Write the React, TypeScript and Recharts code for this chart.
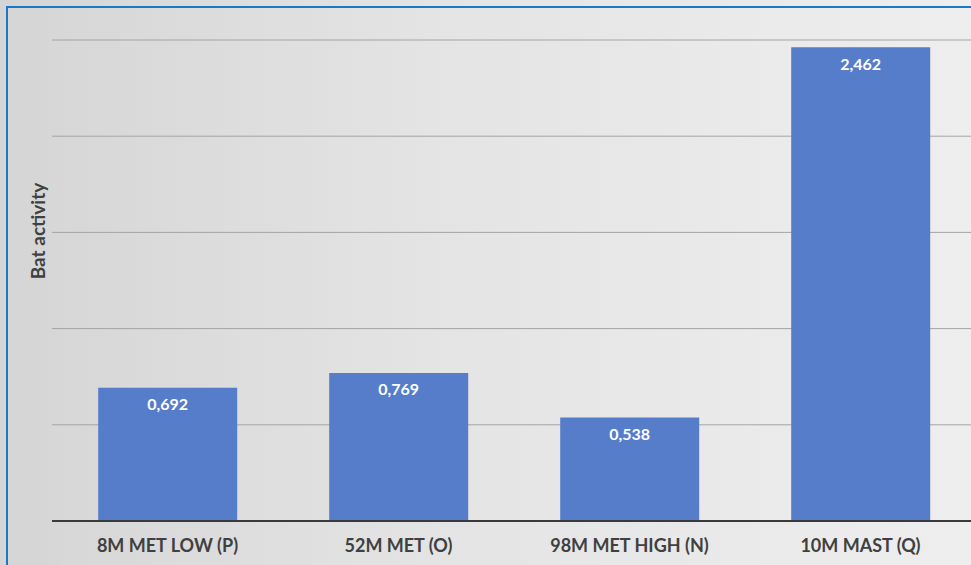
import React from "react";
import {
  BarChart,
  Bar,
  XAxis,
  YAxis,
  CartesianGrid,
  LabelList,
} from "recharts";

// Sites (category axis)
const sites: string[] = [
  "8M MET LOW (P)",
  "52M MET (O)",
  "98M MET HIGH (N)",
  "10M MAST (Q)",
];

// Bat activity per site
const activity: number[] = [0.692, 0.769, 0.538, 2.462];

// Value axis ticks (labels hidden in the original)
const yTicks: number[] = [0, 0.5, 1, 1.5, 2, 2.5];

const data = sites.map((site, i) => ({ site, activity: activity[i] }));

const FONT = "Lato, 'Open Sans', sans-serif";
const TEXT = "#404040";

// comma decimal separator, as in the original
const fmt = (v: any) => Number(v).toFixed(3).replace(".", ",");

const App: React.FC = () => {
  return (
    <div
      style={{
        position: "absolute",
        left: 0,
        top: 0,
        width: 971,
        height: 565,
        overflow: "hidden",
        background: "linear-gradient(90deg, #d5d5d5 0%, #e4e4e4 45%, #eeeeee 100%)",
        fontFamily: FONT,
      }}
    >
      {/* blue frame, top + left only (the screenshot is cropped) */}
      <div
        style={{
          position: "absolute",
          left: 6,
          top: 6,
          right: -10,
          bottom: -10,
          borderTop: "2px solid #1a78c8",
          borderLeft: "2px solid #1a78c8",
          pointerEvents: "none",
          zIndex: 2,
        }}
      />
      {/* y axis title */}
      <div
        style={{
          position: "absolute",
          left: 37,
          top: 231,
          transform: "translate(-50%, -50%) rotate(-90deg)",
          whiteSpace: "nowrap",
          color: TEXT,
          fontSize: 19,
          fontWeight: 700,
          lineHeight: 1,
          zIndex: 1,
        }}
      >
        Bat activity
      </div>
      <BarChart
        width={980}
        height={565}
        data={data}
        margin={{ top: 40, right: 4, left: 52, bottom: 0 }}
        barCategoryGap="20%"
      >
        <CartesianGrid
          horizontal={true}
          vertical={false}
          stroke="#a4a4a4"
          strokeWidth={1}
        />
        <YAxis
          width={0}
          domain={[0, 2.5]}
          ticks={yTicks}
          tick={() => <g />}
          axisLine={false}
          tickLine={false}
          allowDataOverflow
        />
        <XAxis
          dataKey="site"
          height={44}
          axisLine={{ stroke: "#3a3a3a", strokeWidth: 2 }}
          tickLine={false}
          tickMargin={12}
          interval={0}
          tick={{ fill: TEXT, fontSize: 18, fontWeight: 700, fontFamily: FONT }}
        />
        <Bar dataKey="activity" fill="#567dca" isAnimationActive={false}>
          <LabelList
            dataKey="activity"
            position="insideTop"
            offset={11}
            formatter={fmt}
            fill="#ffffff"
            fontSize={16}
            fontWeight={700}
            fontFamily={FONT}
          />
        </Bar>
      </BarChart>
    </div>
  );
};

export default App;
